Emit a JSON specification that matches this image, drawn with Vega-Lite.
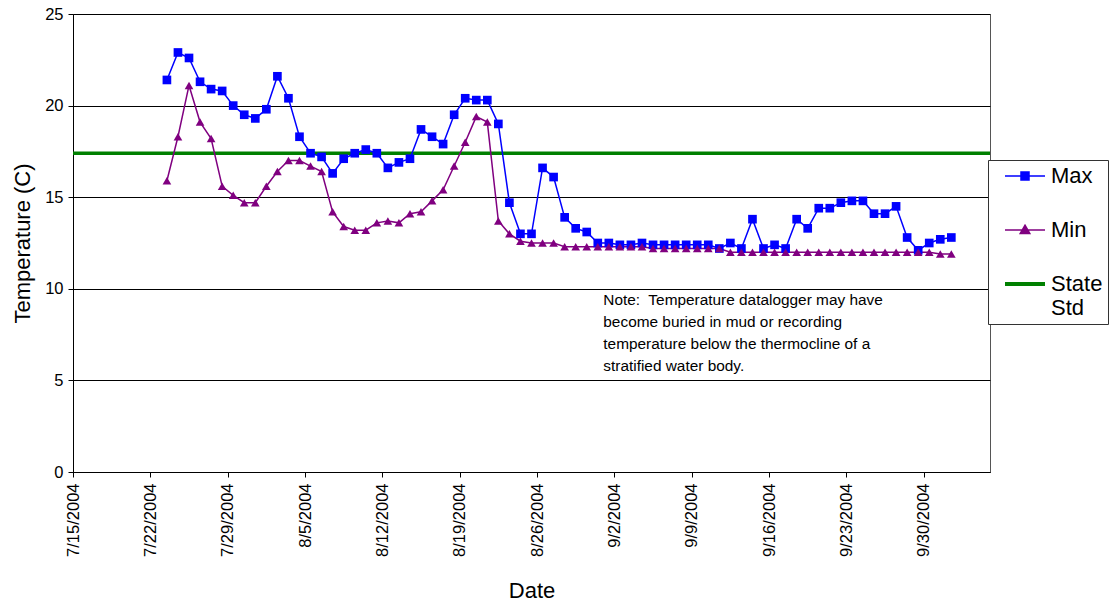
{
  "$schema": "https://vega.github.io/schema/vega-lite/v6.json",
  "width": 917,
  "height": 458,
  "autosize": "none",
  "padding": {"left": 73, "top": 14, "right": 124, "bottom": 133},
  "background": "white",
  "config": {
    "font": "Liberation Sans",
    "view": {"stroke": "#555", "strokeWidth": 1},
    "axis": {"labelFont": "Liberation Sans", "titleFont": "Liberation Sans", "labelColor": "black", "titleColor": "black", "titleFontWeight": "normal", "domainColor": "black", "tickColor": "black"}
  },
  "datasets": {
    "temps": [
      {"date": "2004/07/23", "series": "Max", "temp": 21.4},
      {"date": "2004/07/24", "series": "Max", "temp": 22.9},
      {"date": "2004/07/25", "series": "Max", "temp": 22.6},
      {"date": "2004/07/26", "series": "Max", "temp": 21.3},
      {"date": "2004/07/27", "series": "Max", "temp": 20.9},
      {"date": "2004/07/28", "series": "Max", "temp": 20.8},
      {"date": "2004/07/29", "series": "Max", "temp": 20.0},
      {"date": "2004/07/30", "series": "Max", "temp": 19.5},
      {"date": "2004/07/31", "series": "Max", "temp": 19.3},
      {"date": "2004/08/01", "series": "Max", "temp": 19.8},
      {"date": "2004/08/02", "series": "Max", "temp": 21.6},
      {"date": "2004/08/03", "series": "Max", "temp": 20.4},
      {"date": "2004/08/04", "series": "Max", "temp": 18.3},
      {"date": "2004/08/05", "series": "Max", "temp": 17.4},
      {"date": "2004/08/06", "series": "Max", "temp": 17.2},
      {"date": "2004/08/07", "series": "Max", "temp": 16.3},
      {"date": "2004/08/08", "series": "Max", "temp": 17.1},
      {"date": "2004/08/09", "series": "Max", "temp": 17.4},
      {"date": "2004/08/10", "series": "Max", "temp": 17.6},
      {"date": "2004/08/11", "series": "Max", "temp": 17.4},
      {"date": "2004/08/12", "series": "Max", "temp": 16.6},
      {"date": "2004/08/13", "series": "Max", "temp": 16.9},
      {"date": "2004/08/14", "series": "Max", "temp": 17.1},
      {"date": "2004/08/15", "series": "Max", "temp": 18.7},
      {"date": "2004/08/16", "series": "Max", "temp": 18.3},
      {"date": "2004/08/17", "series": "Max", "temp": 17.9},
      {"date": "2004/08/18", "series": "Max", "temp": 19.5},
      {"date": "2004/08/19", "series": "Max", "temp": 20.4},
      {"date": "2004/08/20", "series": "Max", "temp": 20.3},
      {"date": "2004/08/21", "series": "Max", "temp": 20.3},
      {"date": "2004/08/22", "series": "Max", "temp": 19.0},
      {"date": "2004/08/23", "series": "Max", "temp": 14.7},
      {"date": "2004/08/24", "series": "Max", "temp": 13.0},
      {"date": "2004/08/25", "series": "Max", "temp": 13.0},
      {"date": "2004/08/26", "series": "Max", "temp": 16.6},
      {"date": "2004/08/27", "series": "Max", "temp": 16.1},
      {"date": "2004/08/28", "series": "Max", "temp": 13.9},
      {"date": "2004/08/29", "series": "Max", "temp": 13.3},
      {"date": "2004/08/30", "series": "Max", "temp": 13.1},
      {"date": "2004/08/31", "series": "Max", "temp": 12.5},
      {"date": "2004/09/01", "series": "Max", "temp": 12.5},
      {"date": "2004/09/02", "series": "Max", "temp": 12.4},
      {"date": "2004/09/03", "series": "Max", "temp": 12.4},
      {"date": "2004/09/04", "series": "Max", "temp": 12.5},
      {"date": "2004/09/05", "series": "Max", "temp": 12.4},
      {"date": "2004/09/06", "series": "Max", "temp": 12.4},
      {"date": "2004/09/07", "series": "Max", "temp": 12.4},
      {"date": "2004/09/08", "series": "Max", "temp": 12.4},
      {"date": "2004/09/09", "series": "Max", "temp": 12.4},
      {"date": "2004/09/10", "series": "Max", "temp": 12.4},
      {"date": "2004/09/11", "series": "Max", "temp": 12.2},
      {"date": "2004/09/12", "series": "Max", "temp": 12.5},
      {"date": "2004/09/13", "series": "Max", "temp": 12.2},
      {"date": "2004/09/14", "series": "Max", "temp": 13.8},
      {"date": "2004/09/15", "series": "Max", "temp": 12.2},
      {"date": "2004/09/16", "series": "Max", "temp": 12.4},
      {"date": "2004/09/17", "series": "Max", "temp": 12.2},
      {"date": "2004/09/18", "series": "Max", "temp": 13.8},
      {"date": "2004/09/19", "series": "Max", "temp": 13.3},
      {"date": "2004/09/20", "series": "Max", "temp": 14.4},
      {"date": "2004/09/21", "series": "Max", "temp": 14.4},
      {"date": "2004/09/22", "series": "Max", "temp": 14.7},
      {"date": "2004/09/23", "series": "Max", "temp": 14.8},
      {"date": "2004/09/24", "series": "Max", "temp": 14.8},
      {"date": "2004/09/25", "series": "Max", "temp": 14.1},
      {"date": "2004/09/26", "series": "Max", "temp": 14.1},
      {"date": "2004/09/27", "series": "Max", "temp": 14.5},
      {"date": "2004/09/28", "series": "Max", "temp": 12.8},
      {"date": "2004/09/29", "series": "Max", "temp": 12.1},
      {"date": "2004/09/30", "series": "Max", "temp": 12.5},
      {"date": "2004/10/01", "series": "Max", "temp": 12.7},
      {"date": "2004/10/02", "series": "Max", "temp": 12.8},
      {"date": "2004/07/23", "series": "Min", "temp": 15.9},
      {"date": "2004/07/24", "series": "Min", "temp": 18.3},
      {"date": "2004/07/25", "series": "Min", "temp": 21.1},
      {"date": "2004/07/26", "series": "Min", "temp": 19.1},
      {"date": "2004/07/27", "series": "Min", "temp": 18.2},
      {"date": "2004/07/28", "series": "Min", "temp": 15.6},
      {"date": "2004/07/29", "series": "Min", "temp": 15.1},
      {"date": "2004/07/30", "series": "Min", "temp": 14.7},
      {"date": "2004/07/31", "series": "Min", "temp": 14.7},
      {"date": "2004/08/01", "series": "Min", "temp": 15.6},
      {"date": "2004/08/02", "series": "Min", "temp": 16.4},
      {"date": "2004/08/03", "series": "Min", "temp": 17.0},
      {"date": "2004/08/04", "series": "Min", "temp": 17.0},
      {"date": "2004/08/05", "series": "Min", "temp": 16.7},
      {"date": "2004/08/06", "series": "Min", "temp": 16.4},
      {"date": "2004/08/07", "series": "Min", "temp": 14.2},
      {"date": "2004/08/08", "series": "Min", "temp": 13.4},
      {"date": "2004/08/09", "series": "Min", "temp": 13.2},
      {"date": "2004/08/10", "series": "Min", "temp": 13.2},
      {"date": "2004/08/11", "series": "Min", "temp": 13.6},
      {"date": "2004/08/12", "series": "Min", "temp": 13.7},
      {"date": "2004/08/13", "series": "Min", "temp": 13.6},
      {"date": "2004/08/14", "series": "Min", "temp": 14.1},
      {"date": "2004/08/15", "series": "Min", "temp": 14.2},
      {"date": "2004/08/16", "series": "Min", "temp": 14.8},
      {"date": "2004/08/17", "series": "Min", "temp": 15.4},
      {"date": "2004/08/18", "series": "Min", "temp": 16.7},
      {"date": "2004/08/19", "series": "Min", "temp": 18.0},
      {"date": "2004/08/20", "series": "Min", "temp": 19.4},
      {"date": "2004/08/21", "series": "Min", "temp": 19.1},
      {"date": "2004/08/22", "series": "Min", "temp": 13.7},
      {"date": "2004/08/23", "series": "Min", "temp": 13.0},
      {"date": "2004/08/24", "series": "Min", "temp": 12.6},
      {"date": "2004/08/25", "series": "Min", "temp": 12.5},
      {"date": "2004/08/26", "series": "Min", "temp": 12.5},
      {"date": "2004/08/27", "series": "Min", "temp": 12.5},
      {"date": "2004/08/28", "series": "Min", "temp": 12.3},
      {"date": "2004/08/29", "series": "Min", "temp": 12.3},
      {"date": "2004/08/30", "series": "Min", "temp": 12.3},
      {"date": "2004/08/31", "series": "Min", "temp": 12.3},
      {"date": "2004/09/01", "series": "Min", "temp": 12.3},
      {"date": "2004/09/02", "series": "Min", "temp": 12.3},
      {"date": "2004/09/03", "series": "Min", "temp": 12.3},
      {"date": "2004/09/04", "series": "Min", "temp": 12.3},
      {"date": "2004/09/05", "series": "Min", "temp": 12.2},
      {"date": "2004/09/06", "series": "Min", "temp": 12.2},
      {"date": "2004/09/07", "series": "Min", "temp": 12.2},
      {"date": "2004/09/08", "series": "Min", "temp": 12.2},
      {"date": "2004/09/09", "series": "Min", "temp": 12.2},
      {"date": "2004/09/10", "series": "Min", "temp": 12.2},
      {"date": "2004/09/11", "series": "Min", "temp": 12.2},
      {"date": "2004/09/12", "series": "Min", "temp": 12.0},
      {"date": "2004/09/13", "series": "Min", "temp": 12.0},
      {"date": "2004/09/14", "series": "Min", "temp": 12.0},
      {"date": "2004/09/15", "series": "Min", "temp": 12.0},
      {"date": "2004/09/16", "series": "Min", "temp": 12.0},
      {"date": "2004/09/17", "series": "Min", "temp": 12.0},
      {"date": "2004/09/18", "series": "Min", "temp": 12.0},
      {"date": "2004/09/19", "series": "Min", "temp": 12.0},
      {"date": "2004/09/20", "series": "Min", "temp": 12.0},
      {"date": "2004/09/21", "series": "Min", "temp": 12.0},
      {"date": "2004/09/22", "series": "Min", "temp": 12.0},
      {"date": "2004/09/23", "series": "Min", "temp": 12.0},
      {"date": "2004/09/24", "series": "Min", "temp": 12.0},
      {"date": "2004/09/25", "series": "Min", "temp": 12.0},
      {"date": "2004/09/26", "series": "Min", "temp": 12.0},
      {"date": "2004/09/27", "series": "Min", "temp": 12.0},
      {"date": "2004/09/28", "series": "Min", "temp": 12.0},
      {"date": "2004/09/29", "series": "Min", "temp": 12.0},
      {"date": "2004/09/30", "series": "Min", "temp": 12.0},
      {"date": "2004/10/01", "series": "Min", "temp": 11.9},
      {"date": "2004/10/02", "series": "Min", "temp": 11.9}
    ],
    "std": [{"series": "State Std", "temp": 17.4}],
    "note": [{"date": "2004/09/01", "temp": 9.75, "text": ["Note:\u00a0 Temperature datalogger may have", "become buried in mud or recording", "temperature below the thermocline of a", "stratified water body."]}]
  },
  "layer": [
    {
      "data": {"name": "std"},
      "mark": {"type": "rule", "strokeWidth": 3.5},
      "encoding": {
        "y": {"field": "temp", "type": "quantitative", "scale": {"domain": [0, 25], "nice": false}},
        "color": {"field": "series", "type": "nominal"}
      }
    },
    {
      "data": {"name": "temps"},
      "mark": {"type": "line", "strokeWidth": 1.5},
      "encoding": {
        "x": {
          "field": "date", "type": "temporal", "timeUnit": "yearmonthdate", "bandPosition": 0.5,
          "scale": {"domain": [{"year": 2004, "month": 7, "date": 15}, {"year": 2004, "month": 10, "date": 6}]},
          "title": "Date",
          "axis": {
            "values": [
              {"year": 2004, "month": 7, "date": 15}, {"year": 2004, "month": 7, "date": 22}, {"year": 2004, "month": 7, "date": 29},
              {"year": 2004, "month": 8, "date": 5}, {"year": 2004, "month": 8, "date": 12}, {"year": 2004, "month": 8, "date": 19},
              {"year": 2004, "month": 8, "date": 26}, {"year": 2004, "month": 9, "date": 2}, {"year": 2004, "month": 9, "date": 9},
              {"year": 2004, "month": 9, "date": 16}, {"year": 2004, "month": 9, "date": 23}, {"year": 2004, "month": 9, "date": 30}
            ],
            "format": "%-m/%-d/%Y", "formatType": "time",
            "labelAngle": 270, "labelAlign": "right", "labelBaseline": "middle",
            "labelFontSize": 16.5, "labelPadding": 6, "tickSize": 5,
            "titleFontSize": 22, "titlePadding": 24, "grid": false, "labelOverlap": false
          }
        },
        "y": {
          "field": "temp", "type": "quantitative",
          "scale": {"domain": [0, 25], "nice": false},
          "title": "Temperature (C)",
          "axis": {"values": [0, 5, 10, 15, 20, 25], "grid": true, "gridColor": "black", "gridOpacity": 1, "labelFontSize": 16.5, "labelPadding": 5, "tickSize": 5, "titleFontSize": 22, "titlePadding": 10}
        },
        "color": {
          "field": "series", "type": "nominal",
          "scale": {"domain": ["Max", "Min", "State Std"], "range": ["#0000FF", "#800080", "#008000"]},
          "legend": {
            "title": null, "orient": "none", "legendX": 915, "legendY": 146,
            "padding": 5, "strokeColor": "#333", "fillColor": "white",
            "labelFontSize": 22, "labelFont": "Liberation Sans", "labelColor": "black", "labelOffset": 5,
            "symbolSize": 1600, "rowPadding": 32,
            "labelExpr": "datum.value == 'State Std' ? ['State', 'Std'] : datum.label",
            "encode": {
              "symbols": {"update": {
                "x": {"value": 32},
                "shape": {"signal": "datum.value == 'Max' ? 'M-1,0H1M-0.2,-0.2H0.2V0.2H-0.2Z' : datum.value == 'Min' ? 'M-1,0H1M0,-0.24L0.24,0.18H-0.24Z' : 'M-1,0H1'"},
                "size": {"value": 1600},
                "stroke": {"signal": "scale('color', datum.value)"},
                "fill": {"signal": "scale('color', datum.value)"},
                "strokeWidth": {"signal": "datum.value == 'State Std' ? 4 : 1.5"},
                "opacity": {"value": 1}
              }},
              "labels": {"update": {"x": {"value": 58}}}
            }
          }
        }
      }
    },
    {
      "data": {"name": "temps"},
      "mark": {"type": "point", "filled": true, "opacity": 1, "size": 75},
      "encoding": {
        "x": {"field": "date", "type": "temporal", "timeUnit": "yearmonthdate", "bandPosition": 0.5},
        "y": {"field": "temp", "type": "quantitative", "scale": {"domain": [0, 25], "nice": false}},
        "color": {"field": "series", "type": "nominal"},
        "shape": {"field": "series", "type": "nominal", "scale": {"domain": ["Max", "Min"], "range": ["square", "triangle-up"]}, "legend": null}
      }
    },
    {
      "data": {"name": "note"},
      "mark": {"type": "text", "align": "left", "baseline": "top", "fontSize": 15.4, "lineHeight": 22, "font": "Liberation Sans", "color": "black"},
      "encoding": {
        "x": {"field": "date", "type": "temporal"},
        "y": {"field": "temp", "type": "quantitative", "scale": {"domain": [0, 25], "nice": false}},
        "text": {"field": "text"}
      }
    }
  ],
  "resolve": {"scale": {"color": "shared"}}
}
